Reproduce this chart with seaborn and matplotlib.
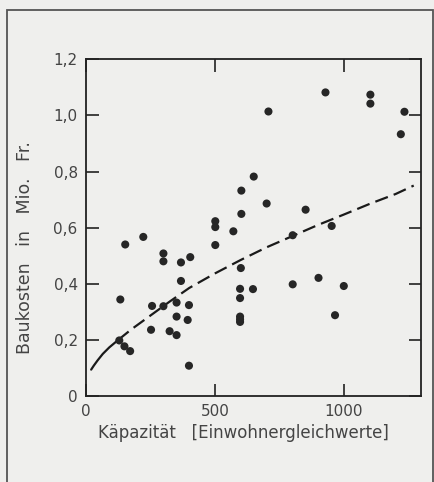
import matplotlib
matplotlib.use("Agg")
import matplotlib.pyplot as plt
import seaborn as sns
import pandas as pd
from matplotlib.patches import Rectangle

# Data
kapazitaet = [129, 149, 171, 133, 152, 222, 252, 256, 300, 300, 300, 324, 351, 351, 351,
              368, 368, 394, 399, 404, 399, 501, 501, 501, 571, 602, 602, 600, 597, 597,
              597, 597, 597, 650, 647, 700, 707, 801, 801, 851, 901, 928, 952, 965, 999,
              1102, 1102, 1234, 1220]
baukosten = [0.198, 0.177, 0.160, 0.344, 0.540, 0.567, 0.236, 0.321, 0.508, 0.480, 0.320,
             0.231, 0.333, 0.283, 0.217, 0.476, 0.410, 0.271, 0.324, 0.495, 0.108, 0.623,
             0.602, 0.538, 0.587, 0.732, 0.649, 0.456, 0.382, 0.349, 0.283, 0.273, 0.264,
             0.782, 0.381, 0.686, 1.014, 0.573, 0.398, 0.664, 0.421, 1.082, 0.606, 0.288,
             0.392, 1.074, 1.042, 1.013, 0.933]

curve_x = [20, 30, 45, 65, 90, 125, 175, 250, 325, 400, 500, 600, 700, 800, 900, 1000,
           1100, 1200, 1270]
curve_y = [0.094, 0.108, 0.127, 0.150, 0.173, 0.200, 0.237, 0.287, 0.337, 0.385, 0.437,
           0.485, 0.530, 0.570, 0.610, 0.647, 0.685, 0.720, 0.750]

x_ticks = [0, 500, 1000]
x_ticklabels = ["0", "500", "1000"]
y_ticks = [0, 0.2, 0.4, 0.6, 0.8, 1.0, 1.2]
y_ticklabels = ["0", "0,2", "0,4", "0,6", "0,8", "1,0", "1,2"]

sns.set_theme(style="ticks")
plt.rcParams["font.family"] = ["DejaVu Sans"]

W, H = 435, 482
fig = plt.figure(figsize=(W / 100, H / 100), dpi=100)
bg = "#efefed"
fig.patch.set_facecolor(bg)
ax = fig.add_axes([86 / W, 1 - 396 / H, (420.7 - 86) / W, (396 - 59.3) / H])
ax.set_facecolor(bg)

# outer frame
fig.patches.append(Rectangle((7 / W, -0.01), (433 - 7) / W, 1 - 10 / H + 0.01,
                             transform=fig.transFigure, fill=False,
                             edgecolor="#555555", linewidth=1.3))

df = pd.DataFrame({"x": kapazitaet, "y": baukosten})
sns.scatterplot(data=df, x="x", y="y", ax=ax, s=34, color="#262626",
                edgecolor="none", zorder=3)

cdf = pd.DataFrame({"x": curve_x, "y": curve_y})
sns.lineplot(data=cdf.iloc[:6], x="x", y="y", ax=ax, color="#1a1a1a", lw=1.6,
             estimator=None, sort=False)
sns.lineplot(data=cdf.iloc[5:], x="x", y="y", ax=ax, color="#1a1a1a", lw=1.6,
             estimator=None, sort=False)
ax.lines[-1].set_dashes([6, 2.8])

ax.set_xlim(0, 1297)
ax.set_ylim(0, 1.2)
ax.set_xticks(x_ticks)
ax.set_xticklabels(x_ticklabels)
ax.set_yticks(y_ticks)
ax.set_yticklabels(y_ticklabels)
ax.tick_params(direction="in", length=9, width=1.2, colors="#222222",
               top=True, right=True, labelsize=11, labelcolor="#444444", pad=6)
for s in ax.spines.values():
    s.set_color("#222222")
    s.set_linewidth(1.3)
ax.set_xlabel("")
ax.set_ylabel("")

fig.text(243 / W, 1 - 433 / H, "Käpazität   [Einwohnergleichwerte]", ha="center",
         va="center", fontsize=12, color="#444444")
fig.text(25 / W, 1 - 247.5 / H, "Baukosten   in   Mio.   Fr.", ha="center", va="center",
         rotation=90, fontsize=12.5, color="#444444")

fig.savefig("out.png", dpi=100, facecolor=bg)
